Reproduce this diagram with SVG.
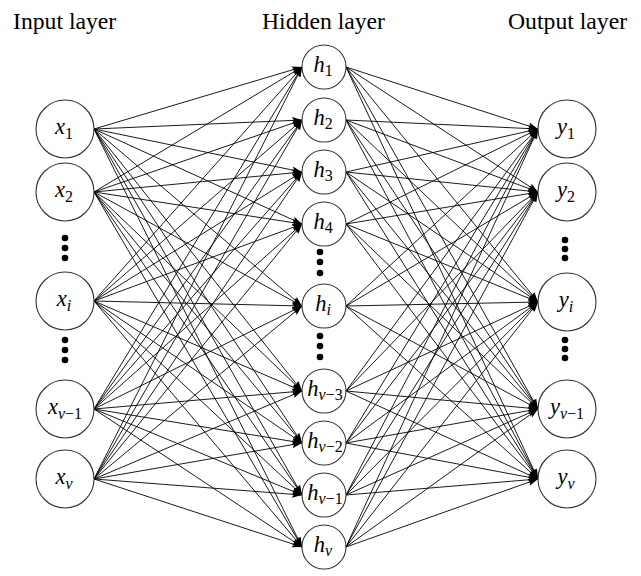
<svg xmlns="http://www.w3.org/2000/svg" width="641" height="576" viewBox="0 0 641 576">
<style>
.title{font-family:"Liberation Serif","Times New Roman",serif;font-size:23.7px;fill:#000}
.node circle{fill:#fff;stroke:#333;stroke-width:1.1}
.lbl{font-family:"Liberation Serif","Times New Roman",serif;font-size:22.5px;font-style:italic;fill:#000;text-anchor:middle}
.sub{font-size:16px}
.up{font-style:normal}
.edges line{stroke:#000;stroke-width:0.9;marker-end:url(#ah)}
.dot{fill:#000}
</style>
<defs>
<marker id="ah" markerUnits="userSpaceOnUse" markerWidth="11" markerHeight="8" refX="10" refY="4" orient="auto">
<path d="M0,0.5 L10,4 L0,7.5 L2,4 z" fill="#000"/>
</marker>
</defs>
<rect width="641" height="576" fill="#fff"/>
<text class="title" x="13" y="29">Input layer</text>
<text class="title" x="262" y="29">Hidden layer</text>
<text class="title" x="508" y="29">Output layer</text>
<g class="edges" id="connectors">
<line x1="94" y1="129" x2="302" y2="67"/><line x1="94" y1="129" x2="302" y2="120"/><line x1="94" y1="129" x2="302" y2="172"/><line x1="94" y1="129" x2="302" y2="224"/><line x1="94" y1="129" x2="302" y2="306"/><line x1="94" y1="129" x2="302" y2="391"/><line x1="94" y1="129" x2="302" y2="443"/><line x1="94" y1="129" x2="302" y2="495"/><line x1="94" y1="129" x2="302" y2="547"/>
<line x1="94" y1="192" x2="302" y2="67"/><line x1="94" y1="192" x2="302" y2="120"/><line x1="94" y1="192" x2="302" y2="172"/><line x1="94" y1="192" x2="302" y2="224"/><line x1="94" y1="192" x2="302" y2="306"/><line x1="94" y1="192" x2="302" y2="391"/><line x1="94" y1="192" x2="302" y2="443"/><line x1="94" y1="192" x2="302" y2="495"/><line x1="94" y1="192" x2="302" y2="547"/>
<line x1="94" y1="301" x2="302" y2="67"/><line x1="94" y1="301" x2="302" y2="120"/><line x1="94" y1="301" x2="302" y2="172"/><line x1="94" y1="301" x2="302" y2="224"/><line x1="94" y1="301" x2="302" y2="306"/><line x1="94" y1="301" x2="302" y2="391"/><line x1="94" y1="301" x2="302" y2="443"/><line x1="94" y1="301" x2="302" y2="495"/><line x1="94" y1="301" x2="302" y2="547"/>
<line x1="94" y1="409" x2="302" y2="67"/><line x1="94" y1="409" x2="302" y2="120"/><line x1="94" y1="409" x2="302" y2="172"/><line x1="94" y1="409" x2="302" y2="224"/><line x1="94" y1="409" x2="302" y2="306"/><line x1="94" y1="409" x2="302" y2="391"/><line x1="94" y1="409" x2="302" y2="443"/><line x1="94" y1="409" x2="302" y2="495"/><line x1="94" y1="409" x2="302" y2="547"/>
<line x1="94" y1="479" x2="302" y2="67"/><line x1="94" y1="479" x2="302" y2="120"/><line x1="94" y1="479" x2="302" y2="172"/><line x1="94" y1="479" x2="302" y2="224"/><line x1="94" y1="479" x2="302" y2="306"/><line x1="94" y1="479" x2="302" y2="391"/><line x1="94" y1="479" x2="302" y2="443"/><line x1="94" y1="479" x2="302" y2="495"/><line x1="94" y1="479" x2="302" y2="547"/>
<line x1="346" y1="67" x2="538" y2="129"/><line x1="346" y1="67" x2="538" y2="192"/><line x1="346" y1="67" x2="538" y2="302"/><line x1="346" y1="67" x2="538" y2="409"/><line x1="346" y1="67" x2="538" y2="479"/>
<line x1="346" y1="120" x2="538" y2="129"/><line x1="346" y1="120" x2="538" y2="192"/><line x1="346" y1="120" x2="538" y2="302"/><line x1="346" y1="120" x2="538" y2="409"/><line x1="346" y1="120" x2="538" y2="479"/>
<line x1="346" y1="172" x2="538" y2="129"/><line x1="346" y1="172" x2="538" y2="192"/><line x1="346" y1="172" x2="538" y2="302"/><line x1="346" y1="172" x2="538" y2="409"/><line x1="346" y1="172" x2="538" y2="479"/>
<line x1="346" y1="224" x2="538" y2="129"/><line x1="346" y1="224" x2="538" y2="192"/><line x1="346" y1="224" x2="538" y2="302"/><line x1="346" y1="224" x2="538" y2="409"/><line x1="346" y1="224" x2="538" y2="479"/>
<line x1="346" y1="306" x2="538" y2="129"/><line x1="346" y1="306" x2="538" y2="192"/><line x1="346" y1="306" x2="538" y2="302"/><line x1="346" y1="306" x2="538" y2="409"/><line x1="346" y1="306" x2="538" y2="479"/>
<line x1="346" y1="391" x2="538" y2="129"/><line x1="346" y1="391" x2="538" y2="192"/><line x1="346" y1="391" x2="538" y2="302"/><line x1="346" y1="391" x2="538" y2="409"/><line x1="346" y1="391" x2="538" y2="479"/>
<line x1="346" y1="443" x2="538" y2="129"/><line x1="346" y1="443" x2="538" y2="192"/><line x1="346" y1="443" x2="538" y2="302"/><line x1="346" y1="443" x2="538" y2="409"/><line x1="346" y1="443" x2="538" y2="479"/>
<line x1="346" y1="495" x2="538" y2="129"/><line x1="346" y1="495" x2="538" y2="192"/><line x1="346" y1="495" x2="538" y2="302"/><line x1="346" y1="495" x2="538" y2="409"/><line x1="346" y1="495" x2="538" y2="479"/>
<line x1="346" y1="547" x2="538" y2="129"/><line x1="346" y1="547" x2="538" y2="192"/><line x1="346" y1="547" x2="538" y2="302"/><line x1="346" y1="547" x2="538" y2="409"/><line x1="346" y1="547" x2="538" y2="479"/>
</g>
<g id="x1" class="node"><circle cx="65" cy="129" r="29"/><text class="lbl" x="64" y="134">x<tspan class="sub up" dy="5">1</tspan></text></g>
<g id="x2" class="node"><circle cx="65" cy="192" r="29"/><text class="lbl" x="64" y="197">x<tspan class="sub up" dy="5">2</tspan></text></g>
<g id="xi" class="node"><circle cx="65" cy="301" r="29"/><text class="lbl" x="64" y="306">x<tspan class="sub" dy="5">i</tspan></text></g>
<g id="xv1" class="node"><circle cx="65" cy="409" r="29"/><text class="lbl" x="65" y="414">x<tspan class="sub" dy="5">v<tspan class="up">−1</tspan></tspan></text></g>
<g id="xv" class="node"><circle cx="65" cy="479" r="29"/><text class="lbl" x="64" y="484">x<tspan class="sub" dy="5">v</tspan></text></g>
<g id="h1" class="node"><circle cx="324" cy="67" r="22"/><text class="lbl" x="323" y="72">h<tspan class="sub up" dy="4">1</tspan></text></g>
<g id="h2" class="node"><circle cx="324" cy="120" r="22"/><text class="lbl" x="323" y="125">h<tspan class="sub up" dy="4">2</tspan></text></g>
<g id="h3" class="node"><circle cx="324" cy="172" r="22"/><text class="lbl" x="323" y="177">h<tspan class="sub up" dy="4">3</tspan></text></g>
<g id="h4" class="node"><circle cx="324" cy="224" r="22"/><text class="lbl" x="323" y="229">h<tspan class="sub up" dy="4">4</tspan></text></g>
<g id="hi" class="node"><circle cx="324" cy="306" r="22"/><text class="lbl" x="323" y="311">h<tspan class="sub" dy="4">i</tspan></text></g>
<g id="hv3" class="node"><circle cx="324" cy="391" r="22"/><text class="lbl" x="325" y="396">h<tspan class="sub" dy="4">v<tspan class="up">−3</tspan></tspan></text></g>
<g id="hv2" class="node"><circle cx="324" cy="443" r="22"/><text class="lbl" x="325" y="448">h<tspan class="sub" dy="4">v<tspan class="up">−2</tspan></tspan></text></g>
<g id="hv1" class="node"><circle cx="324" cy="495" r="22"/><text class="lbl" x="325" y="500">h<tspan class="sub" dy="4">v<tspan class="up">−1</tspan></tspan></text></g>
<g id="hv" class="node"><circle cx="324" cy="547" r="22"/><text class="lbl" x="323" y="552">h<tspan class="sub" dy="4">v</tspan></text></g>
<g id="y1" class="node"><circle cx="567" cy="129" r="29"/><text class="lbl" x="566" y="134">y<tspan class="sub up" dy="5">1</tspan></text></g>
<g id="y2" class="node"><circle cx="567" cy="192" r="29"/><text class="lbl" x="566" y="197">y<tspan class="sub up" dy="5">2</tspan></text></g>
<g id="yi" class="node"><circle cx="567" cy="302" r="29"/><text class="lbl" x="566" y="307">y<tspan class="sub" dy="5">i</tspan></text></g>
<g id="yv1" class="node"><circle cx="567" cy="409" r="29"/><text class="lbl" x="567" y="414">y<tspan class="sub" dy="5">v<tspan class="up">−1</tspan></tspan></text></g>
<g id="yv" class="node"><circle cx="567" cy="479" r="29"/><text class="lbl" x="566" y="484">y<tspan class="sub" dy="5">v</tspan></text></g>
<g id="dots">
<circle class="dot" cx="65" cy="238" r="3.3"/><circle class="dot" cx="65" cy="248" r="3.3"/><circle class="dot" cx="65" cy="258" r="3.3"/>
<circle class="dot" cx="65" cy="340" r="3.3"/><circle class="dot" cx="65" cy="350" r="3.3"/><circle class="dot" cx="65" cy="360" r="3.3"/>
<circle class="dot" cx="320" cy="252" r="3.3"/><circle class="dot" cx="320" cy="262" r="3.3"/><circle class="dot" cx="320" cy="273" r="3.3"/>
<circle class="dot" cx="320" cy="336" r="3.3"/><circle class="dot" cx="320" cy="346" r="3.3"/><circle class="dot" cx="320" cy="357" r="3.3"/>
<circle class="dot" cx="565" cy="240" r="3.3"/><circle class="dot" cx="565" cy="249" r="3.3"/><circle class="dot" cx="565" cy="258" r="3.3"/>
<circle class="dot" cx="565" cy="340" r="3.3"/><circle class="dot" cx="565" cy="349" r="3.3"/><circle class="dot" cx="565" cy="358" r="3.3"/>
</g>
</svg>
